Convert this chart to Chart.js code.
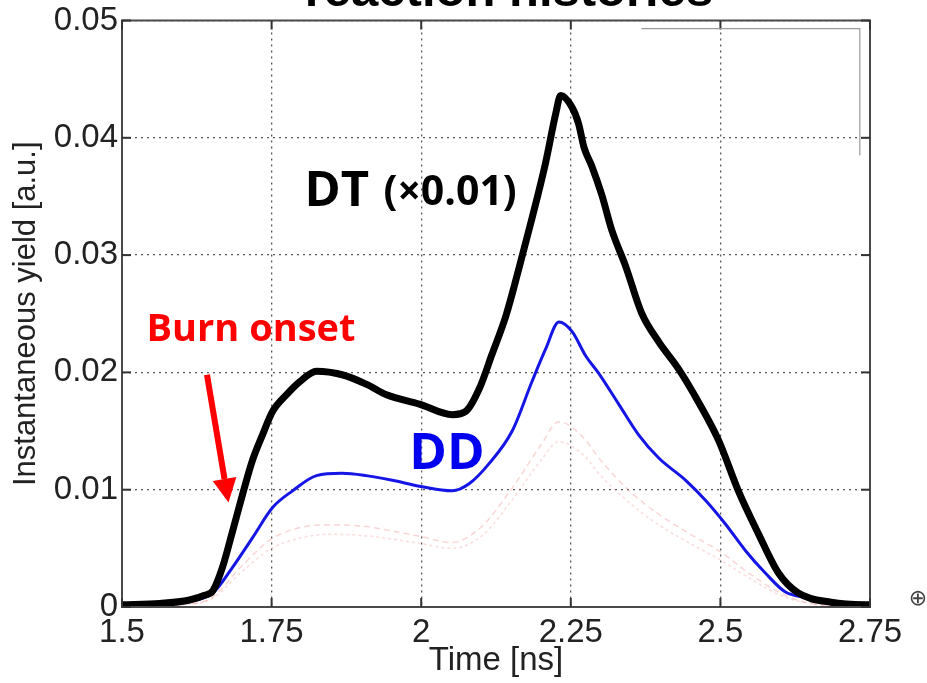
<!DOCTYPE html>
<html>
<head>
<meta charset="utf-8">
<script src="https://cdn.jsdelivr.net/npm/chart.js@4.4.1/dist/chart.umd.min.js"></script>
<style>
  html, body { margin: 0; padding: 0; background: #ffffff; }
  #c { display: block; }
</style>
</head>
<body>
<canvas id="c" width="927" height="683"></canvas>
<script>
// ---- Data ----
const dtTime = [1.5, 1.563, 1.613, 1.638, 1.652, 1.668, 1.685, 1.702, 1.718, 1.735, 1.752, 1.775, 1.797, 1.825, 1.868, 1.908, 1.942, 1.997, 2.052, 2.075, 2.097, 2.118, 2.142, 2.163, 2.185, 2.208, 2.225, 2.233, 2.252, 2.263, 2.272, 2.285, 2.302, 2.318, 2.342, 2.368, 2.397, 2.43, 2.463, 2.497, 2.53, 2.563, 2.597, 2.63, 2.685, 2.742, 2.75];
const dtYield = [0.0002, 0.0003, 0.0006, 0.001, 0.0014, 0.0034, 0.0065, 0.0097, 0.0125, 0.0147, 0.0167, 0.0181, 0.0192, 0.0201, 0.0198, 0.019, 0.0181, 0.0173, 0.0164, 0.0167, 0.0186, 0.0215, 0.0249, 0.0288, 0.0331, 0.0379, 0.0421, 0.0436, 0.0426, 0.0412, 0.0392, 0.0376, 0.0351, 0.0322, 0.029, 0.0251, 0.0226, 0.0203, 0.0175, 0.0142, 0.0099, 0.0063, 0.0029, 0.0012, 0.0004, 0.0002, 0.0002];

const ddTime = [1.5, 1.613, 1.652, 1.685, 1.718, 1.752, 1.785, 1.825, 1.868, 1.908, 1.952, 1.997, 2.052, 2.08, 2.113, 2.152, 2.185, 2.208, 2.23, 2.252, 2.275, 2.297, 2.33, 2.363, 2.397, 2.442, 2.475, 2.508, 2.542, 2.575, 2.608, 2.642, 2.697, 2.75];
const ddYield = [0.0001, 0.0005, 0.0012, 0.0034, 0.0059, 0.0085, 0.0099, 0.0112, 0.0114, 0.0112, 0.0108, 0.0103, 0.0099, 0.0105, 0.0122, 0.015, 0.0192, 0.022, 0.0243, 0.0235, 0.0214, 0.0199, 0.0173, 0.0147, 0.0127, 0.0108, 0.0091, 0.0071, 0.0048, 0.0029, 0.0013, 0.0008, 0.0003, 0.0002];

const faintTime = [1.5, 1.6, 1.65, 1.7, 1.75, 1.8, 1.85, 1.9, 1.95, 2.0, 2.05, 2.1, 2.15, 2.2, 2.23, 2.27, 2.3, 2.35, 2.4, 2.45, 2.5, 2.55, 2.6, 2.65, 2.75];
const faintUpper = [0, 0.0002, 0.0008, 0.0035, 0.0058, 0.0068, 0.007, 0.0069, 0.0065, 0.006, 0.0055, 0.0068, 0.01, 0.0138, 0.0158, 0.0145, 0.0125, 0.0098, 0.0078, 0.0062, 0.0047, 0.0028, 0.0012, 0.0003, 0];
const faintLower = [0, 0.0002, 0.0007, 0.003, 0.005, 0.0059, 0.0062, 0.0061, 0.0058, 0.0054, 0.005, 0.006, 0.009, 0.0125, 0.0141, 0.013, 0.0112, 0.0088, 0.0069, 0.0054, 0.004, 0.0024, 0.001, 0.0003, 0];

const xTicks = [1.5, 1.75, 2, 2.25, 2.5, 2.75];
const yTicks = [0, 0.01, 0.02, 0.03, 0.04, 0.05];

const titleText = 'reaction histories';
const xTitle = 'Time [ns]';
const yTitle = 'Instantaneous yield [a.u.]';

function pts(xs, ys) { return xs.map((x, i) => ({ x: x, y: ys[i] })); }

// ---- Annotation placement (in data coordinates) ----
const notes = [
  { text: 'DT', x: 1.805, y: 0.0342, font: 'bold 49px "Open Sans"', color: '#000000' },
  { text: '(\u00d70.01)', x: 1.937, y: 0.0343, font: 'bold 41px "Open Sans"', color: '#000000' },
  { text: 'DD', x: 1.98, y: 0.0118, font: 'bold 51px "Open Sans"', color: '#0000ee' },
  { text: 'Burn onset', x: 1.541, y: 0.0227, font: 'bold 38px "Open Sans"', color: '#ff0000' }
];
const arrow = { x1: 1.642, y1: 0.0198, x2: 1.678, y2: 0.0089 };
const legendBox = { x1: 2.368, x2: 2.733, y1: 0.0493, y2: 0.0385 };

const decor = {
  id: 'decor',
  afterDraw(chart) {
    const ctx = chart.ctx;
    const a = chart.chartArea;
    const xs = chart.scales.x, ys = chart.scales.y;
    ctx.save();
    // frame
    ctx.setLineDash([]);
    ctx.strokeStyle = '#4a4a4a';
    ctx.lineWidth = 2;
    ctx.strokeRect(a.left, a.top, a.right - a.left, a.bottom - a.top);
    // inward tick marks on all four sides
    ctx.lineWidth = 2;
    ctx.strokeStyle = '#333';
    const tl = 9;
    xTicks.forEach(v => {
      const p = xs.getPixelForValue(v);
      ctx.beginPath(); ctx.moveTo(p, a.bottom); ctx.lineTo(p, a.bottom - tl); ctx.stroke();
      ctx.beginPath(); ctx.moveTo(p, a.top); ctx.lineTo(p, a.top + tl); ctx.stroke();
    });
    yTicks.forEach(v => {
      const p = ys.getPixelForValue(v);
      ctx.beginPath(); ctx.moveTo(a.left, p); ctx.lineTo(a.left + tl, p); ctx.stroke();
      ctx.beginPath(); ctx.moveTo(a.right, p); ctx.lineTo(a.right - tl, p); ctx.stroke();
    });
    // remnant of legend box
    ctx.strokeStyle = '#9a9a9a';
    ctx.lineWidth = 1.2;
    ctx.beginPath();
    ctx.moveTo(xs.getPixelForValue(legendBox.x1), ys.getPixelForValue(legendBox.y1));
    ctx.lineTo(xs.getPixelForValue(legendBox.x2), ys.getPixelForValue(legendBox.y1));
    ctx.lineTo(xs.getPixelForValue(legendBox.x2), ys.getPixelForValue(legendBox.y2));
    ctx.stroke();
    // title (cropped by the top edge of the page)
    ctx.fillStyle = '#000';
    ctx.font = 'bold 49px "Liberation Sans", Arial, sans-serif';
    ctx.textAlign = 'center';
    ctx.textBaseline = 'alphabetic';
    ctx.fillText(titleText, (a.left + a.right) / 2 + 13, 6);
    // annotations
    ctx.textAlign = 'left';
    notes.forEach(n => {
      ctx.font = n.font;
      ctx.fillStyle = n.color;
      ctx.fillText(n.text, xs.getPixelForValue(n.x), ys.getPixelForValue(n.y));
    });
    // red arrow
    const x1 = xs.getPixelForValue(arrow.x1), y1 = ys.getPixelForValue(arrow.y1);
    const x2 = xs.getPixelForValue(arrow.x2), y2 = ys.getPixelForValue(arrow.y2);
    const ang = Math.atan2(y2 - y1, x2 - x1);
    const headLen = 24, headW = 12;
    const bx = x2 - headLen * Math.cos(ang), by = y2 - headLen * Math.sin(ang);
    ctx.strokeStyle = '#ff0000';
    ctx.fillStyle = '#ff0000';
    ctx.lineWidth = 6;
    ctx.beginPath(); ctx.moveTo(x1, y1); ctx.lineTo(bx, by); ctx.stroke();
    ctx.beginPath();
    ctx.moveTo(x2, y2);
    ctx.lineTo(bx + headW * Math.sin(ang), by - headW * Math.cos(ang));
    ctx.lineTo(bx - headW * Math.sin(ang), by + headW * Math.cos(ang));
    ctx.closePath(); ctx.fill();
    // small symbol right of the axis
    ctx.fillStyle = '#444';
    ctx.font = '22px "DejaVu Sans"';
    ctx.textAlign = 'center';
    ctx.textBaseline = 'middle';
    ctx.fillText('\u2295', a.right + 48, a.bottom - 8);
    ctx.restore();
  }
};

const ff = '"Liberation Sans", Arial, sans-serif';

new Chart(document.getElementById('c'), {
  type: 'line',
  data: {
    datasets: [
      { label: 'DT (x0.01)', data: pts(dtTime, dtYield), borderColor: '#000000', borderWidth: 7, pointRadius: 0, cubicInterpolationMode: 'monotone', fill: false },
      { label: 'DD', data: pts(ddTime, ddYield), borderColor: '#1515e6', borderWidth: 3, pointRadius: 0, cubicInterpolationMode: 'monotone', fill: false },
      { label: 'faint 1', data: pts(faintTime, faintUpper), borderColor: 'rgba(235,120,120,0.3)', borderWidth: 1.5, borderDash: [6, 4], pointRadius: 0, cubicInterpolationMode: 'monotone', fill: false },
      { label: 'faint 2', data: pts(faintTime, faintLower), borderColor: 'rgba(235,120,120,0.25)', borderWidth: 1.5, borderDash: [3, 3], pointRadius: 0, cubicInterpolationMode: 'monotone', fill: false }
    ]
  },
  options: {
    responsive: false,
    animation: false,
    devicePixelRatio: 1,
    layout: { padding: { left: 0, top: 18, right: 57, bottom: 0 } },
    plugins: { legend: { display: false }, title: { display: false }, tooltip: { enabled: false } },
    scales: {
      x: {
        type: 'linear', min: 1.5, max: 2.75,
        afterBuildTicks(s) { s.ticks = xTicks.map(v => ({ value: v })); },
        afterFit(s) { s.height = 76; },
        ticks: { font: { family: ff, size: 33 }, color: '#222', padding: 6, maxRotation: 0, autoSkip: false,
                 callback: v => String(v) },
        grid: { color: 'rgba(60,60,60,0.85)', lineWidth: 1.3, drawTicks: false },
        border: { display: true, color: '#4a4a4a', width: 2, dash: [2, 4] },
        title: { display: true, text: xTitle, font: { family: ff, size: 33 }, color: '#222', padding: { top: 0, bottom: 2 } }
      },
      y: {
        type: 'linear', min: 0, max: 0.05,
        afterBuildTicks(s) { s.ticks = yTicks.map(v => ({ value: v })); },
        afterFit(s) { s.width = 122; },
        ticks: { font: { family: ff, size: 33, lineHeight: 1.0 }, color: '#222', padding: 4, autoSkip: false,
                 callback: v => String(v) },
        grid: { color: 'rgba(60,60,60,0.85)', lineWidth: 1.3, drawTicks: false },
        border: { display: true, color: '#4a4a4a', width: 2, dash: [2, 4] },
        title: { display: true, text: yTitle, font: { family: ff, size: 31 }, color: '#222', padding: { top: 8, bottom: 0 } }
      }
    }
  },
  plugins: [decor]
});
</script>
</body>
</html>
